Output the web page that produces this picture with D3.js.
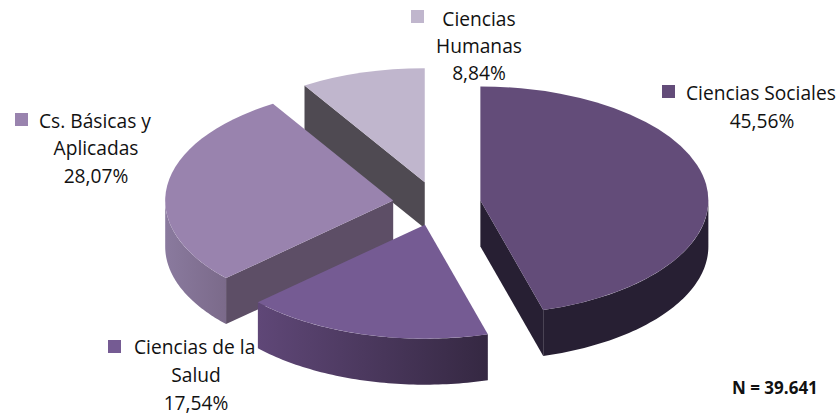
<!DOCTYPE html>
<html>
<head>
<meta charset="utf-8">
<script src="https://cdn.jsdelivr.net/npm/d3@7"></script>
<style>
  html, body { margin: 0; padding: 0; background: #fff; }
  text { font-family: "Open Sans", sans-serif; font-size: 19.2px; fill: #111; }
</style>
</head>
<body>
<div id="chart"></div>
<script>
const categories = ["Ciencias Sociales", "Ciencias de la Salud", "Cs. Básicas y Aplicadas", "Ciencias Humanas"];
const values = [45.56, 17.54, 28.07, 8.84];
const valueLabels = ["45,56%", "17,54%", "28,07%", "8,84%"];
const topColors = ["#634c79", "#755b93", "#9983ae", "#c0b6cd"];
const cutColors = ["#271f33", null, "#5d4e66", "#4f4a52"];
const wallColors = [["#271f33", "#271f33"], ["#5f4777", "#352842"], ["#8a7a9e", "#7b6a8a"], null];

const width = 840, height = 416;
const cx = 436.8, cy = 203.5;
const rx = 228, tilt = 0.5, depth = 46, explode = 44;

const svg = d3.select("#chart")
  .append("svg")
    .attr("width", width)
    .attr("height", height);

const defs = svg.append("defs");

const pie = d3.pie().sort(null).value(d => d);
const slices = pie(values).map((s, i) => {
  const mid = (s.startAngle + s.endAngle) / 2;
  return {
    ...s, i,
    ox: cx + explode * Math.sin(mid),
    oy: cy - explode * Math.cos(mid) * tilt
  };
});

const arc = d3.arc().innerRadius(0).outerRadius(rx);
const px = (d, a) => d.ox + rx * Math.sin(a);
const py = (d, a) => d.oy - rx * tilt * Math.cos(a);

// outer rim, only the part of the circle facing the viewer
function wallPath(d) {
  const a0 = Math.max(d.startAngle, Math.PI / 2);
  const a1 = Math.min(d.endAngle, Math.PI * 1.5);
  if (a1 <= a0) return null;
  const angles = d3.range(0, 61).map(k => a0 + (a1 - a0) * k / 60);
  const top = angles.map(a => [px(d, a), py(d, a)]);
  const bottom = angles.slice().reverse().map(a => [px(d, a), py(d, a) + depth]);
  return d3.line()(top.concat(bottom)) + "Z";
}

// the cut face that can be seen from the front
function cutPath(d, a) {
  const p = [px(d, a), py(d, a)];
  return d3.line()([[d.ox, d.oy], p, [p[0], p[1] + depth], [d.ox, d.oy + depth]]) + "Z";
}

// Sociales shows its end cut, Basicas and Humanas their start cut
const cutAngle = [d => d.endAngle, null, d => d.startAngle, d => d.startAngle];

// back to front
const order = [3, 2, 0, 1];
order.forEach(i => {
  const d = slices[i];
  const g = svg.append("g");

  if (cutColors[i]) {
    g.append("path")
      .attr("d", cutPath(d, cutAngle[i](d)))
      .attr("fill", cutColors[i]);
  }

  const wall = wallPath(d);
  if (wall && wallColors[i]) {
    const a0 = Math.max(d.startAngle, Math.PI / 2);
    const a1 = Math.min(d.endAngle, Math.PI * 1.5);
    const xs = [px(d, a0), px(d, a1)];
    const grad = defs.append("linearGradient")
      .attr("id", "wall" + i)
      .attr("gradientUnits", "userSpaceOnUse")
      .attr("x1", d3.min(xs)).attr("x2", d3.max(xs))
      .attr("y1", 0).attr("y2", 0);
    grad.append("stop").attr("offset", 0).attr("stop-color", wallColors[i][0]);
    grad.append("stop").attr("offset", 1).attr("stop-color", wallColors[i][1]);
    g.append("path")
      .attr("d", wall)
      .attr("fill", "url(#wall" + i + ")");
  }

  g.append("path")
    .attr("transform", "translate(" + d.ox + "," + d.oy + ") scale(1," + tilt + ")")
    .attr("d", arc(d))
    .attr("fill", topColors[i]);
});

// labels
const labelRows = [
  { i: 0, swatch: [662, 85], lines: [["Ciencias Sociales", 686, 100, "start"], [valueLabels[0], 762, 128, "middle"]] },
  { i: 3, swatch: [411, 10], lines: [["Ciencias", 479, 26, "middle"], ["Humanas", 479, 53, "middle"], [valueLabels[3], 479, 80, "middle"]] },
  { i: 2, swatch: [15, 113], lines: [["Cs. Básicas y", 39, 128, "start"], ["Aplicadas", 96, 155, "middle"], [valueLabels[2], 96, 183, "middle"]] },
  { i: 1, swatch: [108, 340], lines: [["Ciencias de la", 134, 354, "start"], ["Salud", 196, 382, "middle"], [valueLabels[1], 196, 410, "middle"]] }
];

labelRows.forEach(row => {
  svg.append("rect")
    .attr("x", row.swatch[0])
    .attr("y", row.swatch[1])
    .attr("width", 13)
    .attr("height", 13)
    .attr("fill", topColors[row.i]);
  row.lines.forEach(l => {
    svg.append("text")
      .attr("x", l[1])
      .attr("y", l[2])
      .attr("text-anchor", l[3])
      .text(l[0]);
  });
});

svg.append("text")
  .attr("x", 732)
  .attr("y", 394)
  .style("font-size", "17px")
  .style("font-weight", "bold")
  .text("N = 39.641");
</script>
</body>
</html>
